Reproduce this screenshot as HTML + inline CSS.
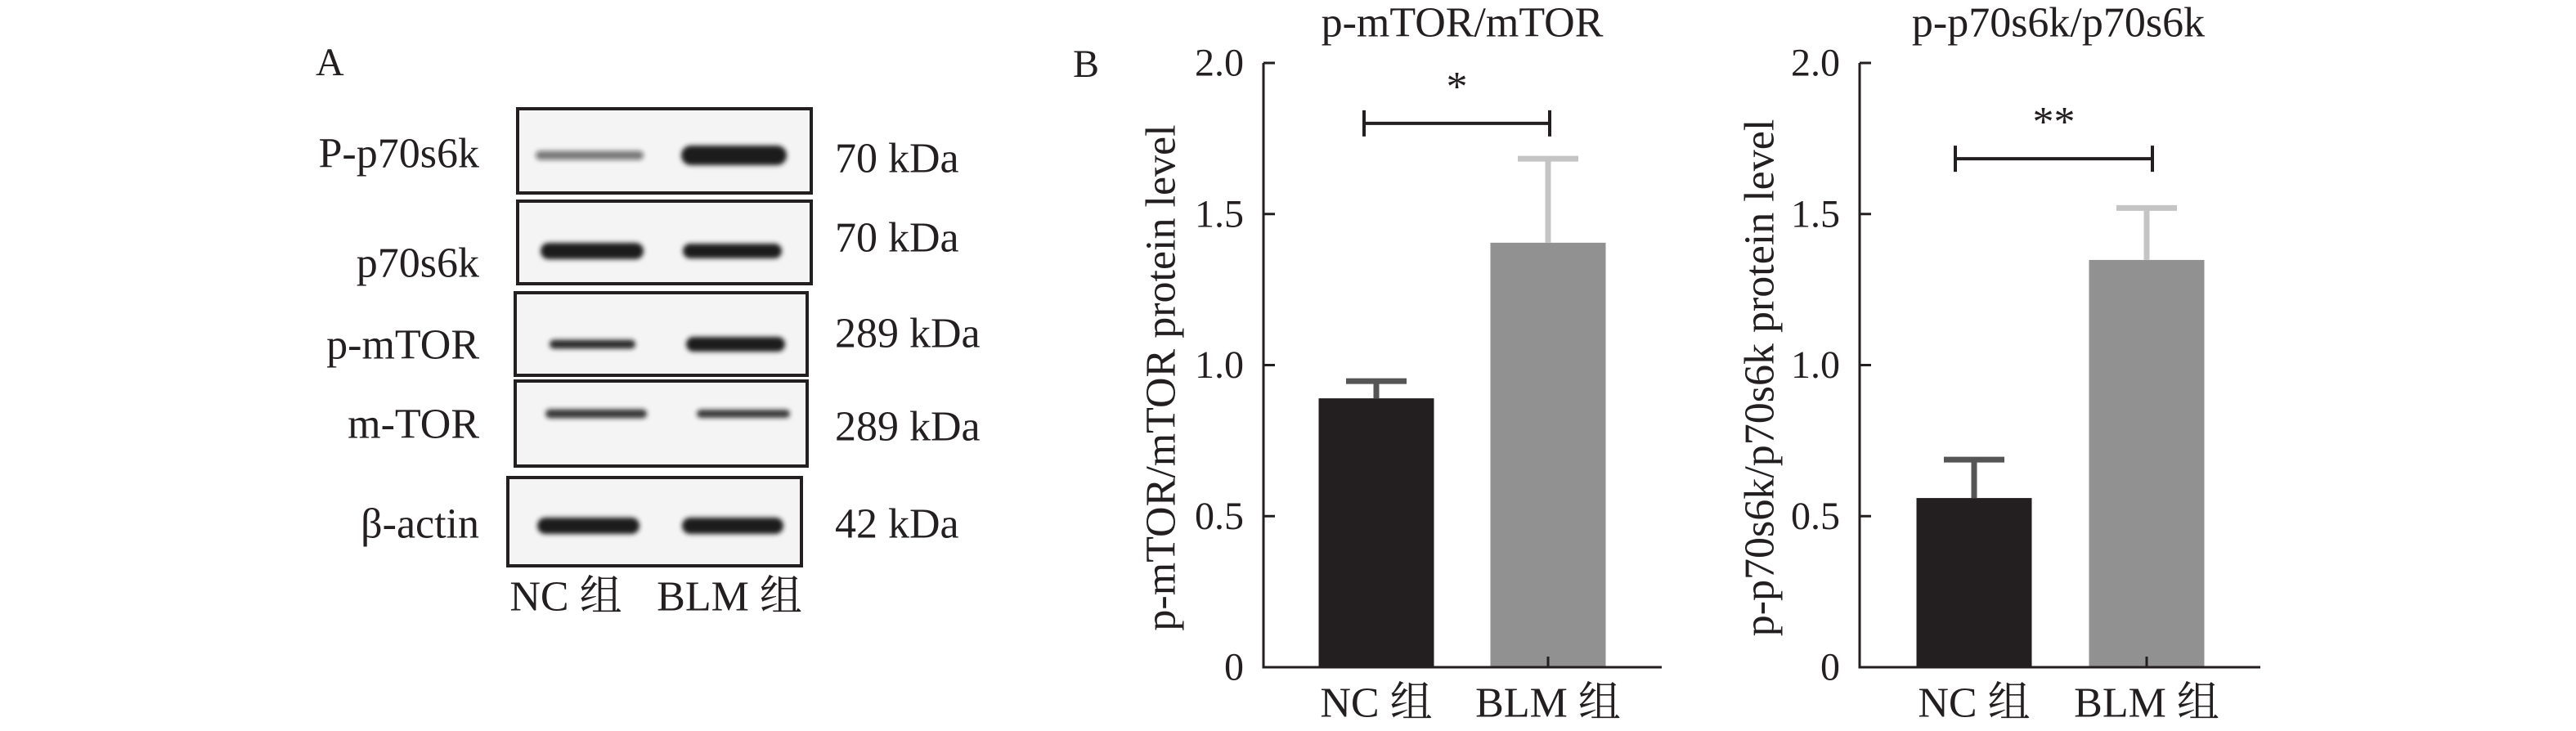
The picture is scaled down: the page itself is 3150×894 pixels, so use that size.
<!DOCTYPE html>
<html><head><meta charset="utf-8"><style>
html,body{margin:0;padding:0;background:#fff;}
svg{display:block;font-family:"Liberation Serif","Noto Serif CJK SC","Noto Sans CJK SC",serif;}
</style></head><body>
<svg id="fig" width="3150" height="894" viewBox="0 0 3150 894" xmlns="http://www.w3.org/2000/svg">
<defs>
<filter id="blur" x="-20%" y="-100%" width="140%" height="300%"><feGaussianBlur stdDeviation="3"/></filter>
</defs>
<g id="panelA">
<text x="386" y="92" font-size="48" fill="#231f20">A</text>
</g>
<g id="panelB">
<text x="1312" y="94" font-size="48" fill="#231f20">B</text>
</g>
</svg>
<script>
// ---- Western blot data ----
const blotLabels = ['P-p70s6k','p70s6k','p-mTOR','m-TOR','β-actin'];
const blotKda = ['70 kDa','70 kDa','289 kDa','289 kDa','42 kDa'];
const ncIntensity = [0.55,1.0,0.9,0.85,1.0];
const blmIntensity = [1.0,1.0,1.0,0.85,1.0];
const ncThick = [11,20,11,11,20];
const blmThick = [24,18,18,10,20];

// ---- Chart data ----
const categories = ['NC 组','BLM 组'];
const chart1Values = [0.89,1.405];
const chart1Errors = [0.057,0.278];
const chart2Values = [0.56,1.348];
const chart2Errors = [0.127,0.172];
const tickLabels = ['0','0.5','1.0','1.5','2.0'];
const tickValues = [0,0.5,1.0,1.5,2.0];
const chart1Sig = 1.80;
const chart2Sig = 1.683;

const NS='http://www.w3.org/2000/svg';
function mk(tag, attrs, parent){const e=document.createElementNS(NS,tag);for(const k in attrs)e.setAttribute(k,attrs[k]);parent.appendChild(e);return e;}
const A=document.getElementById('panelA');
const B=document.getElementById('panelB');

const boxes=[[633,133,992,236],[633,246,992,347],[630,358,987,459],[630,466,987,570],[621,584,980,692]];
const labelY=[188,322,422,519,641];
const kdaY=[194,291,408,522,641];
const ncX=[[655,787],[661,787],[672,777],[667,791],[657,782]];
const blmX=[[833,962],[835,956],[839,960],[852,966],[834,958]];
const bandY=[190,307,421,506,643];
for(let i=0;i<blotLabels.length;i++){
  const b=boxes[i];
  const r=mk('rect',{x:b[0],y:b[1],width:b[2]-b[0],height:b[3]-b[1],fill:'#f4f4f4',stroke:'#231f20','stroke-width':4},A);
  
  
  const n=mk('rect',{x:ncX[i][0],y:bandY[i]-ncThick[i]/2,width:ncX[i][1]-ncX[i][0],height:ncThick[i],rx:ncThick[i]/2,fill:'#1a1a1a','fill-opacity':ncIntensity[i],filter:'url(#blur)'},A);
  
  
  const m=mk('rect',{x:blmX[i][0],y:bandY[i]-blmThick[i]/2,width:blmX[i][1]-blmX[i][0],height:blmThick[i],rx:blmThick[i]/2,fill:'#1a1a1a','fill-opacity':blmIntensity[i],filter:'url(#blur)'},A);
  
  
  const t=mk('text',{x:586,y:labelY[i],'font-size':52,'text-anchor':'end','dominant-baseline':'central',fill:'#231f20'},A);
  t.textContent=blotLabels[i];
  
  
  const k=mk('text',{x:1021,y:kdaY[i],'font-size':52,'dominant-baseline':'central',fill:'#231f20'},A);
  k.textContent=blotKda[i];
  
  
}
[[692,categories[0]],[892,categories[1]]].forEach(function(p){
  const t=mk('text',{x:p[0],y:730,'font-size':52,'text-anchor':'middle','dominant-baseline':'central',fill:'#231f20'},A);
  t.textContent=p[1];
  
  
});

function chart(cfg){
  const g=mk('g',{},B);
  
  
  const y0=816, y2=77;
  const yScale=v=>y0-(v/2)*(y0-y2);
  const xAxis=i=>cfg.barX[i];
  const ya=mk('line',{x1:cfg.ax,y1:y2,x2:cfg.ax,y2:y0+1.5,stroke:'#231f20','stroke-width':3},g);
  
  
  tickValues.forEach(function(v,i){
    const tk=mk('line',{x1:cfg.ax,y1:yScale(v),x2:cfg.ax+14,y2:yScale(v),stroke:'#231f20','stroke-width':3},g);
    
    
    const tl=mk('text',{x:cfg.ax-24,y:yScale(v),'font-size':48,'text-anchor':'end','dominant-baseline':'central',fill:'#231f20'},g);
    tl.textContent=tickLabels[i];
    
    
  });
  const cols=['#231f20','#929192'];
  const errCols=['#555555','#c4c4c4'];
  cfg.values.forEach(function(v,i){
    const x=xAxis(i), w=141;
    const r=mk('rect',{x:x-w/2,y:yScale(v),width:w,height:y0-yScale(v),fill:cols[i]},g);
    
    
    const top=yScale(v+cfg.errors[i]);
    const el=mk('line',{x1:x,y1:yScale(v),x2:x,y2:top,stroke:errCols[i],'stroke-width':7},g);
    
    
    const ec=mk('line',{x1:x-37,y1:top,x2:x+37,y2:top,stroke:errCols[i],'stroke-width':7},g);
    
    
    const xl=mk('text',{x:x,y:860,'font-size':52,'text-anchor':'middle','dominant-baseline':'central',fill:'#231f20'},g);
    xl.textContent=categories[i];
    
    
  });
  const xa=mk('line',{x1:cfg.ax,y1:y0,x2:cfg.axEnd,y2:y0,stroke:'#231f20','stroke-width':3},g);
  
  
  const xt=mk('line',{x1:xAxis(1),y1:y0,x2:xAxis(1),y2:y0-13,stroke:'#231f20','stroke-width':3},g);
  
  
  const sy=yScale(cfg.sig);
  const sl=mk('path',{d:'M'+cfg.sigX[0]+' '+(sy-16)+'V'+(sy+16)+'M'+cfg.sigX[0]+' '+sy+'H'+cfg.sigX[1]+'M'+cfg.sigX[1]+' '+(sy-16)+'V'+(sy+16),stroke:'#231f20','stroke-width':4,fill:'none'},g);
  
  
  const st=mk('text',{x:(cfg.sigX[0]+cfg.sigX[1])/2,y:sy-28,'font-size':52,'text-anchor':'middle',fill:'#231f20'},g);
  st.textContent=cfg.star;
  
  
  const tt=mk('text',{x:cfg.titleX,y:28,'font-size':52,'text-anchor':'middle','dominant-baseline':'central',fill:'#231f20'},g);
  tt.textContent=cfg.title;
  
  
  const yt=mk('text',{x:0,y:0,'font-size':52,'text-anchor':'middle','dominant-baseline':'central',fill:'#231f20',transform:'translate('+cfg.ytX+',462) rotate(-90)'},g);
  yt.textContent=cfg.ytitle;
  
  
}
chart({name:'chart-p-mtor',ax:1545,axEnd:2032,barX:[1683,1893],values:chart1Values,errors:chart1Errors,sig:chart1Sig,sigX:[1668,1895],star:'*',title:'p-mTOR/mTOR',titleX:1788,ytitle:'p-mTOR/mTOR protein level',ytX:1420});
chart({name:'chart-p-p70s6k',ax:2274,axEnd:2764,barX:[2414,2625],values:chart2Values,errors:chart2Errors,sig:chart2Sig,sigX:[2391,2632],star:'**',title:'p-p70s6k/p70s6k',titleX:2517,ytitle:'p-p70s6k/p70s6k protein level',ytX:2152});
</script>
</body></html>
